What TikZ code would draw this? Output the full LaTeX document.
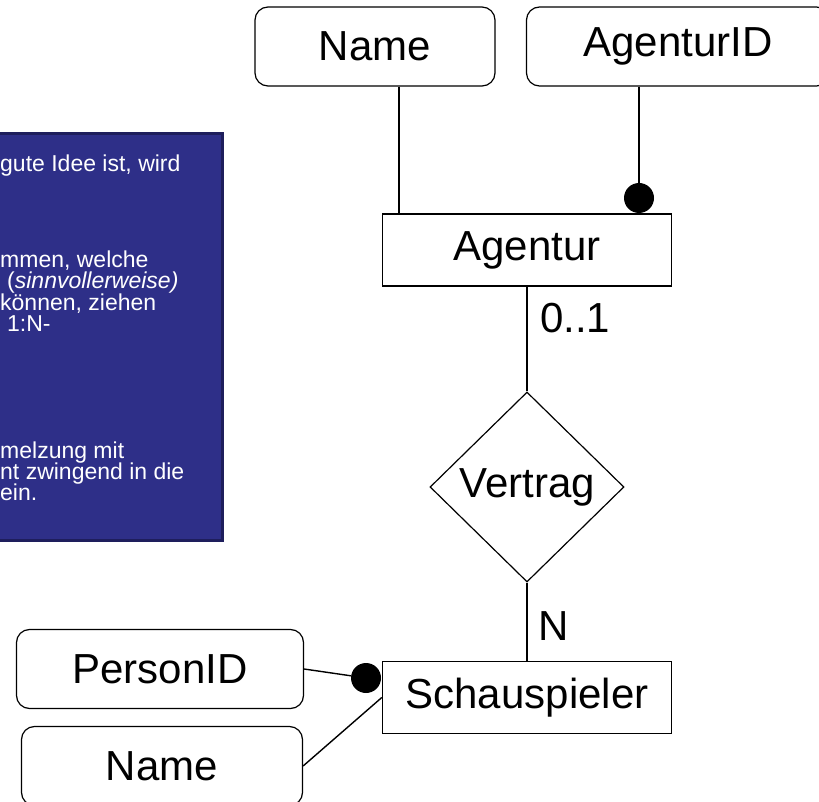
\documentclass[tikz,border=0pt]{standalone}
\usepackage{fontspec}
\setmainfont{Liberation Sans}
\usetikzlibrary{shapes.geometric}
\definecolor{notefill}{RGB}{46,47,136}
\definecolor{noteline}{RGB}{30,30,92}

\begin{document}
\begin{tikzpicture}[x=1pt,y=-1pt,
  attr/.style={draw, rounded corners=13pt, line width=1.2pt, minimum height=79pt, inner sep=0pt, font=\fontsize{42}{42}\selectfont},
  entity/.style={draw, line width=1.4pt, minimum width=289pt, minimum height=72pt, inner sep=0pt, font=\fontsize{42}{42}\selectfont},
  rel/.style={draw, diamond, line width=1.2pt, minimum width=194pt, minimum height=190pt, inner sep=0pt, font=\fontsize{42}{42}\selectfont},
  keydot/.style={circle, fill=black, minimum size=30pt, inner sep=0pt},
  card/.style={font=\fontsize{42}{42}\selectfont, inner sep=0pt},
  notetext/.style={anchor=base west, text=white, inner sep=0pt, font=\fontsize{23}{23}\selectfont}]
\clip (0,0) rectangle (819,802);
\useasboundingbox (0,0) rectangle (819,802);

% note box, cut off at the left
\draw [fill=notefill, draw=noteline, line width=3pt] (-20,134) rectangle (222,540);
\node [notetext] (n1) at (0,172) {gute Idee ist, wird};
\node [notetext] (n2) at (0,268) {mmen, welche};
\node [notetext] (n3) at (7,289) {(\textit{sinnvollerweise)}};
\node [notetext] (n4) at (0,310) {können, ziehen};
\node [notetext] (n5) at (7,331) {1:N-};
\node [notetext] (n6) at (0,458) {melzung mit};
\node [notetext] (n7) at (0,479) {nt zwingend in die};
\node [notetext] (n8) at (0,500) {ein.};

% entities and relationship
\node [entity] (agentur) at (527,250) {Agentur};
\node [rel] (vertrag) at (527,487) {Vertrag};
\node [entity] (schausp) at (527,697.5) {Schauspieler};

% attributes
\node [attr, minimum width=240pt] (aname) at (375,46.5) {Name};
\node [attr, minimum width=303pt] (agid) at (678,46.5) {AgenturID};
\node [attr, minimum width=287pt] (pid) at (160,669) {PersonID};
\node [attr, minimum width=281pt] (pname) at (162,766) {Name};

\node [keydot] (agdot) at (639,198) {};
\node [keydot] (pdot) at (366,678) {};

\draw [line width=2.2pt] (aname.south -| 399,0) -- (agentur.north -| 399,0);
\draw [line width=1.4pt] (agid.south -| agdot) -- (agdot);
\draw [line width=2.2pt] (agentur) -- (vertrag) node [card, pos=0.3, right=12pt] (c1) {0..1};
\draw [line width=2.2pt] (vertrag) -- (schausp) node [card, pos=0.55, right=10pt] (c2) {N};
\draw [line width=1.4pt] (pid.east) -- (pdot);
\draw [line width=1.4pt] (pname.east) -- (schausp.west);
\end{tikzpicture}
\end{document}
